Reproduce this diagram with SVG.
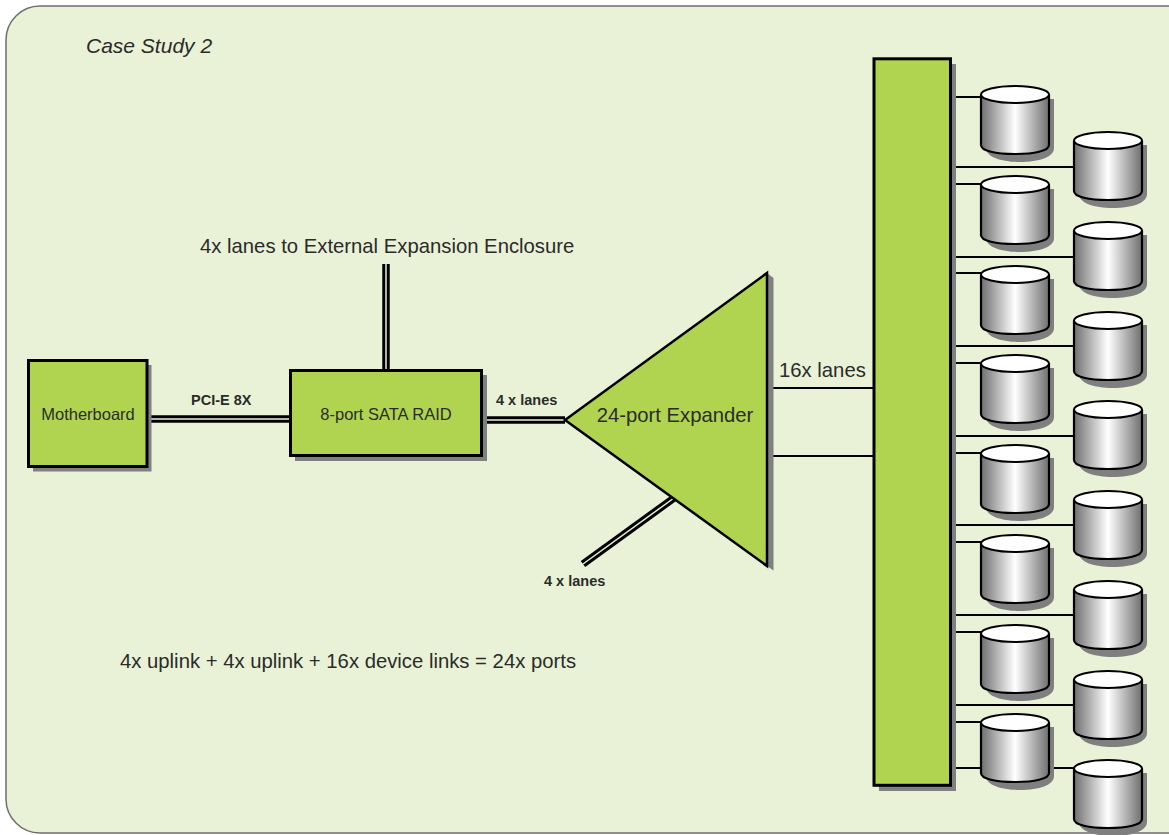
<svg xmlns="http://www.w3.org/2000/svg" width="1169" height="835" viewBox="0 0 1169 835">
<style>
text{font-family:"Liberation Sans",Arial,sans-serif;fill:#2b2b2b}
.node{fill:#b0d450;stroke:#000;stroke-width:3}
.tri{fill:#b0d450;stroke:#000;stroke-width:2.500;stroke-linejoin:miter}
.shadow{fill:#808080}
.wire{stroke:#000;stroke-width:2;fill:none}
.dbl{stroke:#000;stroke-width:7.500;fill:none}
.dbli{stroke:#e9f2d6;stroke-width:1.500;fill:none}
.b{font-size:14.500px;font-weight:bold}
.s{font-size:16.500px}
.l{font-size:20.300px}
.cs{fill:#7f7f7f}
.body{fill:url(#cyl);stroke:#000;stroke-width:2.200}
.top{fill:#fff;stroke:#000;stroke-width:2}
</style>
<defs>
<linearGradient id="cyl" x1="0" x2="1" y1="0" y2="0">
<stop offset="0" stop-color="#6f6f6f"/><stop offset="0.5" stop-color="#ffffff"/><stop offset="1" stop-color="#6f6f6f"/>
</linearGradient>
<g id="disk">
<path class="cs" d="M5 13V62C5 71 20 76 39 76S73 71 73 62V13Z"/>
<path class="body" d="M0 8.500V59C0 65 15 68 34 68S68 65 68 59V8.500"/>
<ellipse class="top" cx="34" cy="8.500" rx="34" ry="8.500"/>
</g>
</defs>
<rect x="6" y="6" width="1200" height="827" rx="34" fill="#e9f2d6" stroke="#6e6e6e" stroke-width="1.500"/>
<g id="connectors">
<path class="dbl" d="M151 419H290"/><path class="dbli" d="M151 419H290"/>
<path class="dbl" d="M482 420H565"/><path class="dbli" d="M482 420H565"/>
<path class="dbl" d="M386 264V370"/><path class="dbli" d="M386 264V370"/>
<path class="dbl" d="M583 564L674 498"/><path class="dbli" d="M583 564L674 498"/>
<path class="wire" d="M773 388H873M773 456H873"/>
<path class="wire" d="M956 97H982M956 167H1074M956 184H982M956 257H1074M956 273H982M956 346H1074M956 363H982M956 436H1074M956 453H982M956 525H1074M956 542H982M956 615H1074M956 632H982M956 705H1074M956 722H982M956 768H982M1054 768H1074"/>
</g>
<g id="motherboard"><rect class="shadow" x="33" y="365" width="118.500" height="106.500"/><rect class="node" x="28.500" y="360.500" width="118.500" height="106"/><text class="s" x="88" y="420" text-anchor="middle">Motherboard</text></g>
<g id="raid"><rect class="shadow" x="295" y="375" width="192" height="86"/><rect class="node" x="290.500" y="370.500" width="191" height="85"/><text class="s" x="386" y="420" text-anchor="middle">8-port SATA RAID</text></g>
<g id="expander"><path class="shadow" d="M767 273L773.500 278V570.500L767 566Z"/><path class="tri" d="M565 420L767 273V566Z"/><text class="l" x="675" y="422" text-anchor="middle">24-port Expander</text></g>
<g id="backplane"><rect class="shadow" x="879" y="64" width="77" height="727"/><rect class="node" x="874" y="58.800" width="76.500" height="726.500"/></g>
<g id="disks">
<use href="#disk" x="981" y="86"/><use href="#disk" x="1074" y="132"/>
<use href="#disk" x="981" y="176"/><use href="#disk" x="1074" y="222"/>
<use href="#disk" x="981" y="266"/><use href="#disk" x="1074" y="312"/>
<use href="#disk" x="981" y="355"/><use href="#disk" x="1074" y="401"/>
<use href="#disk" x="981" y="445"/><use href="#disk" x="1074" y="491"/>
<use href="#disk" x="981" y="535"/><use href="#disk" x="1074" y="581"/>
<use href="#disk" x="981" y="625"/><use href="#disk" x="1074" y="671"/>
<use href="#disk" x="981" y="714"/><use href="#disk" x="1074" y="760"/>
</g>
<g id="labels">
<text x="86" y="53" font-size="21" font-style="italic">Case Study 2</text>
<text class="l" x="200" y="253">4x lanes to External Expansion Enclosure</text>
<text class="b" x="191" y="405">PCI-E 8X</text>
<text class="b" x="496" y="405">4 x lanes</text>
<text class="b" x="544" y="586">4 x lanes</text>
<text class="l" x="779" y="377">16x lanes</text>
<text class="l" x="120" y="668">4x uplink + 4x uplink + 16x device links = 24x ports</text>
</g>
</svg>
